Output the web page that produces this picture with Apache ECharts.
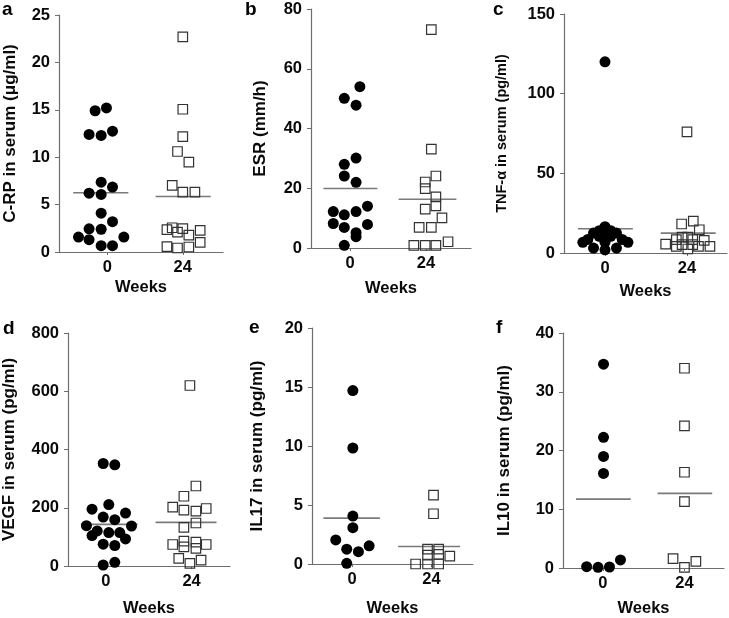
<!DOCTYPE html>
<html><head><meta charset="utf-8">
<script src="https://cdn.jsdelivr.net/npm/echarts@6/dist/echarts.min.js"></script>
<style>html,body{margin:0;padding:0;background:#fff}#c{width:729px;height:618px}</style>
</head><body><div id="c"></div>
<script>
// ---- data ----
const weekLabels = ['0', '24'];

const crpWeek0 = [14.9, 15.2, 12.4, 12.3, 12.75, 7.37, 6.85, 6.2, 6.07, 4.1, 3.2, 2.45, 2.4, 1.58, 1.3, 1.58, 0.67, 0.67];
const crpWeek24 = [22.7, 15.06, 12.18, 10.6, 9.48, 7.02, 6.32, 6.32, 2.35, 2.56, 2.46, 2.1, 1.79, 2.28, 1.02, 0.56, 0.42, 0.53];
const crpMeans = [6.25, 5.86];

const esrWeek0 = [54.0, 50.1, 47.8, 30.1, 28.0, 24.1, 22.0, 14.0, 12.2, 12.2, 11.1, 8.2, 7.9, 6.9, 5.1, 3.8, 0.9];
const esrWeek24 = [73.1, 33.1, 22.1, 24.1, 19.9, 17.1, 14.1, 13.0, 10.1, 6.9, 6.9, 0.9, 0.9, 0.9, 2.1];
const esrMeans = [19.9, 16.3];

const tnfWeek0 = [120, 16.5, 14, 14, 12.5, 12.5, 10.5, 10.5, 10.5, 8.5, 8.5, 6.7, 6.7, 6.7, 3.1, 3.1, 2.0];
const tnfWeek24 = [76, 18.2, 20, 14.6, 5.6, 8.4, 10, 10, 8.4, 4.2, 2.5, 4.2, 7.9, 4.2, 5.2, 5.2];
const tnfMeans = [15.2, 12.5];

const vegfWeek0 = [351.9, 347.3, 211, 195, 181.6, 168, 158.9, 138.5, 137.3, 120.3, 114.6, 114.6, 104.4, 93, 74.9, 70.4, 12.5, 3.4];
const vegfWeek24 = [619.8, 274.7, 239.5, 202, 191.8, 188.4, 197.5, 132.8, 147.6, 73.8, 85.1, 65.8, 81.7, 60.2, 73.8, 26.1, 9.1, 20.4];
const vegfMeans = [143, 149.8];

const il17Week0 = [14.7, 9.83, 4.06, 3.08, 2.04, 1.26, 1.04, 1.54, 0.06];
const il17Week24 = [5.83, 4.26, 1.26, 1.26, 0.76, 0.81, 0.67, 0, 0, 0];
const il17Means = [3.89, 1.48];

const il10Week0 = [34.7, 22.25, 19.0, 16.1, 0.23, 0.11, 0.17, 1.37];
const il10Week24 = [34.0, 24.2, 16.3, 11.3, 1.59, 0.11, 1.14];
const il10Means = [11.72, 12.7];

// ---- horizontal scatter (jitter) offsets ----
const crpJit0 = [-0.16, -0.01, -0.24, -0.08, 0.07, -0.08, 0.07, -0.24, -0.08, -0.08, 0.07, -0.24, -0.08, -0.38, -0.24, 0.22, -0.08, 0.07];
const crpJit24 = [0, 0, 0, -0.07, 0.08, -0.14, 0, 0.16, -0.21, -0.14, 0, -0.07, 0.08, 0.23, 0.23, -0.21, -0.07, 0.08];
const esrJit0 = [0.13, -0.075, 0.08, 0.08, -0.075, -0.075, 0.08, 0.23, -0.22, 0.08, -0.075, -0.22, 0.23, -0.075, 0.08, 0.08, -0.075];
const esrJit24 = [0.07, 0.07, -0.01, 0.13, -0.01, 0.13, 0.13, -0.01, 0.21, -0.09, 0.07, -0.16, -0.01, 0.13, 0.29];
const tnfJit0 = [0, 0, -0.07, 0.07, -0.14, 0.14, -0.07, 0, 0.07, -0.21, 0.21, -0.27, 0, 0.28, -0.14, 0.14, 0];
const tnfJit24 = [0, -0.065, 0.077, 0.15, -0.26, -0.13, -0.06, 0.01, 0.07, -0.13, 0.01, 0.14, 0.21, 0.28, -0.06, 0.07];
const vegfJit0 = [-0.03, 0.105, 0.035, -0.16, 0.23, -0.03, 0.105, -0.225, 0.3, -0.1, 0.035, 0.163, -0.16, 0.23, -0.03, 0.105, 0.105, -0.03];
const vegfJit24 = [-0.02, 0.05, -0.09, -0.22, -0.09, 0.05, 0.17, -0.09, 0.05, -0.22, -0.09, -0.09, 0.05, 0.05, 0.17, -0.15, -0.02, 0.11];
const il17Jit0 = [0.01, 0.01, 0.01, 0.01, -0.205, -0.067, 0.08, 0.215, -0.067];
const il17Jit24 = [0.025, 0.025, -0.05, 0.09, -0.05, 0.09, 0.23, -0.2, -0.05, 0.09];
const il10Jit0 = [0.007, 0.007, 0.007, 0.007, -0.2, -0.06, 0.08, 0.215];
const il10Jit24 = [0, 0, 0, 0, -0.14, 0, 0.14];

// ---- layout / styling ----
const FONT = '"Liberation Sans", Arial, Helvetica, sans-serif';
const panels = [
  {tag:'a', tagPos:[2,0], grid:[59,15,164,237], xr:[-0.638,1.532], yMax:25, yInt:5, yName:'C-RP in serum (\u03bcg/ml)', yGap:40, yFs:17, wGap:27,
   w0:crpWeek0, w24:crpWeek24, j0:crpJit0, j24:crpJit24, means:crpMeans, spans:[[-0.45,0.28],[-0.36,0.37]]},
  {tag:'b', tagPos:[245,0], grid:[311,9,160,239], xr:[-0.513,1.592], yMax:80, yInt:20, yName:'ESR (mm/h)', yGap:42, yFs:17, wGap:32,
   w0:esrWeek0, w24:esrWeek24, j0:esrJit0, j24:esrJit24, means:esrMeans, spans:[[-0.35,0.36],[-0.36,0.4]]},
  {tag:'c', tagPos:[493,0], grid:[564,14,163,239], xr:[-0.5,1.488], yMax:150, yInt:50, yName:'TNF-\u03b1 in serum (pg/ml)', yGap:55, yFs:14.5, wGap:30,
   w0:tnfWeek0, w24:tnfWeek24, j0:tnfJit0, j24:tnfJit24, means:tnfMeans, spans:[[-0.33,0.34],[-0.32,0.35]]},
  {tag:'d', tagPos:[3,319], grid:[68,333,162,235], xr:[-0.44,1.447], yMax:800, yInt:200, yName:'VEGF in serum (pg/ml)', yGap:50, yFs:17, wGap:34,
   w0:vegfWeek0, w24:vegfWeek24, j0:vegfJit0, j24:vegfJit24, means:vegfMeans, spans:[[-0.29,0.37],[-0.42,0.29]]},
  {tag:'e', tagPos:[249,318], grid:[312,328,161,238], xr:[-0.504,1.522], yMax:20, yInt:5, yName:'IL17 in serum (pg/ml)', yGap:46, yFs:17, wGap:36,
   w0:il17Week0, w24:il17Week24, j0:il17Jit0, j24:il17Jit24, means:il17Means, spans:[[-0.36,0.35],[-0.42,0.36]]},
  {tag:'f', tagPos:[496,318], grid:[563,333,161,235], xr:[-0.49,1.485], yMax:40, yInt:10, yName:'IL10 in serum (pg/ml)', yGap:50, yFs:17, wGap:32,
   w0:il10Week0, w24:il10Week24, j0:il10Jit0, j24:il10Jit24, means:il10Means, spans:[[-0.33,0.34],[-0.33,0.34]]}
];

const axisColor = '#6e6e6e';
const textColor = '#0a0a0a';
const grids = [], xAxes = [], yAxes = [], series = [], graphics = [];

panels.forEach((p, i) => {
  grids.push({left:p.grid[0], top:p.grid[1], width:p.grid[2], height:p.grid[3], containLabel:false});
  xAxes.push({
    type:'value', gridIndex:i, min:p.xr[0], max:p.xr[1],
    axisLine:{show:true, onZero:false, lineStyle:{color:axisColor, width:1.2}},
    axisTick:{show:true, customValues:[0,1], length:3, lineStyle:{color:axisColor}},
    axisLabel:{show:true, customValues:[0,1], formatter:v => weekLabels[Math.round(v)], margin:7,
      fontSize:16.5, fontWeight:'bold', color:textColor, fontFamily:FONT},
    splitLine:{show:false},
    name:'Weeks', nameLocation:'middle', nameGap:p.wGap, nameMoveOverlap:false,
    nameTextStyle:{fontSize:16.5, fontWeight:'bold', color:textColor, fontFamily:FONT}
  });
  yAxes.push({
    type:'value', gridIndex:i, min:0, max:p.yMax, interval:p.yInt,
    axisLine:{show:true, onZero:false, lineStyle:{color:axisColor, width:1.2}},
    axisTick:{show:true, length:4, lineStyle:{color:axisColor}},
    axisLabel:{show:true, margin:9, fontSize:16.5, fontWeight:'bold', color:textColor, fontFamily:FONT},
    splitLine:{show:false},
    name:p.yName, nameLocation:'middle', nameGap:p.yGap, nameMoveOverlap:false,
    nameTextStyle:{fontSize:p.yFs, fontWeight:'bold', color:textColor, fontFamily:FONT}
  });
  // mean lines
  [0,1].forEach(g => {
    series.push({
      type:'line', xAxisIndex:i, yAxisIndex:i, symbol:'none', silent:true, z:1,
      lineStyle:{color:'#7a7a7a', width:1.6},
      data:[[g + p.spans[g][0], p.means[g]], [g + p.spans[g][1], p.means[g]]]
    });
  });
  series.push({
    type:'scatter', xAxisIndex:i, yAxisIndex:i, symbol:'circle', symbolSize:11, clip:false, z:3,
    itemStyle:{color:'#000', opacity:1},
    data:p.w0.map((v, k) => [0 + p.j0[k], v])
  });
  series.push({
    type:'scatter', xAxisIndex:i, yAxisIndex:i, symbol:'rect', symbolSize:9.5, clip:false, z:3,
    itemStyle:{color:'rgba(0,0,0,0)', borderColor:'#333', borderWidth:1.2, opacity:1},
    data:p.w24.map((v, k) => [1 + p.j24[k], v])
  });
  graphics.push({type:'text', left:p.tagPos[0], top:p.tagPos[1],
    style:{text:p.tag, font:'bold 19px ' + FONT, fill:'#000'}});
});

const chart = echarts.init(document.getElementById('c'), null, {renderer:'canvas'});
chart.setOption({
  animation:false,
  backgroundColor:'#fff',
  grid:grids, xAxis:xAxes, yAxis:yAxes, series:series, graphic:graphics
});
</script>
</body></html>
